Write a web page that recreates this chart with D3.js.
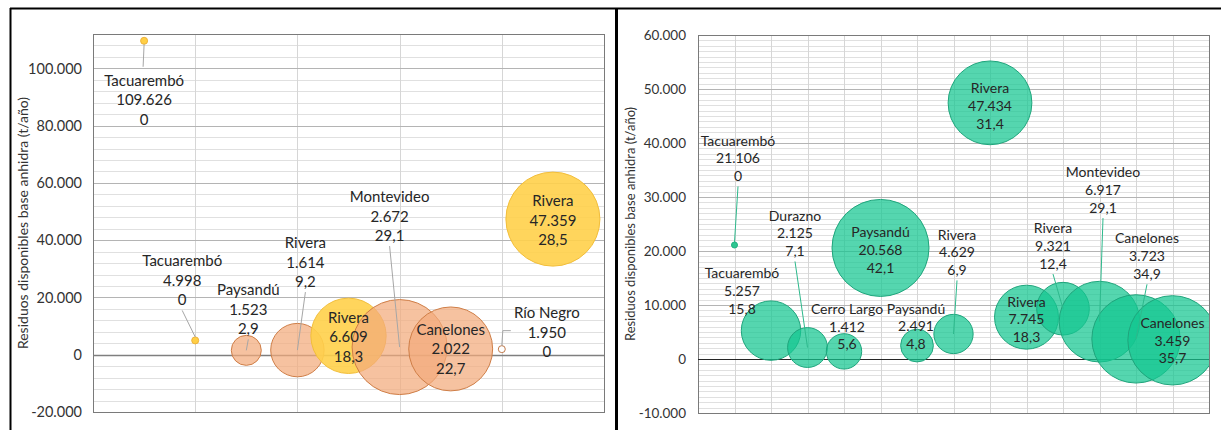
<!DOCTYPE html>
<html>
<head>
<meta charset="utf-8">
<script src="https://cdn.jsdelivr.net/npm/d3@7"></script>
<style>
  body { margin: 0; background: #fff; }
  svg { display: block; font-family: Lato, "Open Sans", sans-serif; }
</style>
</head>
<body>
<svg id="chart" width="1221" height="430"></svg>
<script>
// ---- Panel izquierdo ----
const departamentos1 = ["Tacuarembó", "Tacuarembó", "Paysandú", "Rivera", "Rivera",
                        "Montevideo", "Canelones", "Río Negro", "Rivera"];
const residuos1 = [109626, 4998, 1523, 1614, 6609, 2672, 2022, 1950, 47359];
const tamanos1  = [0, 0, 2.9, 9.2, 18.3, 29.1, 22.7, 0, 28.5];
const series1   = ["amarillo", "amarillo", "naranja", "naranja", "amarillo",
                   "naranja", "naranja", "naranja", "amarillo"];
const yTicks1   = [-20000, 0, 20000, 40000, 60000, 80000, 100000];

// ---- Panel derecho ----
const departamentos2 = ["Tacuarembó", "Tacuarembó", "Durazno", "Cerro Largo", "Paysandú",
                        "Paysandú", "Rivera", "Rivera", "Rivera", "Rivera",
                        "Montevideo", "Canelones", "Canelones"];
const residuos2 = [21106, 5257, 2125, 1412, 20568, 2491, 4629, 47434, 7745, 9321, 6917, 3723, 3459];
const tamanos2  = [0, 15.8, 7.1, 5.6, 42.1, 4.8, 6.9, 31.4, 18.3, 12.4, 29.1, 34.9, 35.7];
const series2   = Array(13).fill("verde");
const yTicks2   = [-10000, 0, 10000, 20000, 30000, 40000, 50000, 60000];

const tituloEjeY = "Residuos disponibles base anhidra (t/año)";

// Number formats with Spanish separators
const loc = d3.formatLocale({ decimal: ",", thousands: ".", grouping: [3], currency: ["$", ""], minus: "-" });
const fmtMiles = loc.format(",.0f");
const fmtTam = v => v === 0 ? "0" : loc.format(".1f")(v);

const estilos = {
  amarillo: { fill: "#FFD04A", op: 0.9, stroke: "#F2BE3A", cero: { fill: "#FFCF45", stroke: "#EDB23A" } },
  naranja:  { fill: "#F3AA7C", op: 0.72, stroke: "#CF7E47", cero: { fill: "#ffffff", stroke: "#C07A4C" } },
  verde:    { fill: "#14C690", op: 0.72, stroke: "#1FA57C", cero: { fill: "#2CC690", stroke: "#20B080" } }
};

const svg = d3.select("#chart");

// Outer frame
svg.append("line").attr("x1", 10).attr("x2", 1221).attr("y1", 8.5).attr("y2", 8.5)
  .attr("stroke", "#000").attr("stroke-width", 2);
svg.append("line").attr("x1", 10.5).attr("x2", 10.5).attr("y1", 8).attr("y2", 430)
  .attr("stroke", "#000").attr("stroke-width", 2);
svg.append("line").attr("x1", 616.5).attr("x2", 616.5).attr("y1", 8).attr("y2", 430)
  .attr("stroke", "#000").attr("stroke-width", 3);

function dibujarPanel(p) {
  const n = p.nombres.length;
  const x = d3.scaleLinear().domain(p.xDom).range([p.x0, p.x1]);
  const y = d3.scaleLinear().domain(p.yDom).range([p.y1, p.y0]);
  const r = d3.scaleSqrt().domain([0, d3.max(p.tam)]).range([0, p.rMax]);
  const g = svg.append("g");

  // minor horizontal grid
  g.append("g").selectAll("line")
    .data(d3.range(p.yDom[0], p.yDom[1] + 1, p.menor))
    .join("line")
    .attr("x1", p.x0).attr("x2", p.x1)
    .attr("y1", d => Math.round(y(d)) + 0.5).attr("y2", d => Math.round(y(d)) + 0.5)
    .attr("stroke", "#e0e0e0");
  // vertical grid
  g.append("g").selectAll("line")
    .data(d3.range(p.xDom[0], p.xDom[1] + 0.001, p.xPaso))
    .join("line")
    .attr("x1", d => Math.round(x(d)) + 0.5).attr("x2", d => Math.round(x(d)) + 0.5)
    .attr("y1", p.y0).attr("y2", p.y1)
    .attr("stroke", "#d6d6d6");
  // major horizontal grid
  g.append("g").selectAll("line")
    .data(p.yTicks)
    .join("line")
    .attr("x1", p.x0).attr("x2", p.x1)
    .attr("y1", d => Math.round(y(d)) + 0.5).attr("y2", d => Math.round(y(d)) + 0.5)
    .attr("stroke", "#b4b4b4");
  // plot border
  g.append("rect")
    .attr("x", p.x0 + 0.5).attr("y", p.y0 + 0.5)
    .attr("width", p.x1 - p.x0).attr("height", p.y1 - p.y0)
    .attr("fill", "none").attr("stroke", "#7a7a7a");
  // zero line
  g.append("line")
    .attr("x1", p.x0).attr("x2", p.x1)
    .attr("y1", Math.round(y(0)) + 0.5).attr("y2", Math.round(y(0)) + 0.5)
    .attr("stroke", p.colorCero).attr("stroke-width", p.anchoCero);

  // y axis labels
  const eje = g.append("g")
    .attr("transform", `translate(${p.x0},0)`)
    .call(d3.axisLeft(y).tickValues(p.yTicks).tickSize(0)
      .tickPadding(p.x0 - p.ticksX).tickFormat(fmtMiles));
  eje.select(".domain").remove();
  eje.selectAll("text")
    .attr("font-family", "Lato, sans-serif")
    .attr("font-size", p.fsTicks)
    .attr("fill", "#333");

  // y axis title
  g.append("text")
    .attr("transform", `translate(${p.tituloX},${(p.y0 + p.y1) / 2}) rotate(-90)`)
    .attr("text-anchor", "middle")
    .attr("dominant-baseline", "central")
    .attr("font-size", p.fsTitulo)
    .attr("fill", "#333")
    .text(tituloEjeY);

  // bubbles, clipped to the plot area
  const clipId = "clip" + p.id;
  svg.append("clipPath").attr("id", clipId)
    .append("rect").attr("x", p.x0).attr("y", p.y0)
    .attr("width", p.x1 - p.x0).attr("height", p.y1 - p.y0);

  const idx = d3.range(n);
  const burbujas = g.append("g").attr("clip-path", `url(#${clipId})`);
  burbujas.selectAll("circle")
    .data(idx)
    .join("circle")
    .attr("cx", i => x(i + 1))
    .attr("cy", i => y(p.valores[i]))
    .attr("r", i => p.tam[i] === 0 ? p.rCero : r(p.tam[i]))
    .attr("fill", i => p.tam[i] === 0 ? estilos[p.series[i]].cero.fill : estilos[p.series[i]].fill)
    .attr("fill-opacity", i => p.tam[i] === 0 ? 1 : estilos[p.series[i]].op)
    .attr("stroke", i => p.tam[i] === 0 ? estilos[p.series[i]].cero.stroke : estilos[p.series[i]].stroke)
    .attr("stroke-width", 1);

  // leader lines
  const guias = g.append("g");
  idx.forEach(i => {
    const tipo = p.guias[i];
    if (!tipo) return;
    const cx = x(i + 1), cy = y(p.valores[i]);
    const lx = cx + p.pos[i][0], ly = cy + p.pos[i][1];
    const rr = p.tam[i] === 0 ? p.rCero : 0;
    let pts;
    if (tipo === "abajo") pts = [[lx, ly + 2 * p.lh + 11], [cx, cy - rr]];
    else if (tipo === "arriba") pts = [[cx, cy + rr], [lx - 1, ly - 13]];
    else if (tipo === "codo") pts = [[cx, cy - rr], [cx + 1, ly + p.lh - 1], [cx + 9, ly + p.lh - 1]];
    guias.append("path")
      .attr("d", d3.line()(pts))
      .attr("fill", "none")
      .attr("stroke", p.colorGuia)
      .attr("stroke-width", 1);
  });

  // data labels: name, residue value, size
  const etiquetas = g.append("g")
    .attr("font-size", p.fsEtiq)
    .attr("fill", "#262626")
    .attr("text-anchor", "middle");
  idx.forEach(i => {
    const cx = x(i + 1), cy = y(p.valores[i]);
    const lx = cx + p.pos[i][0], ly = cy + p.pos[i][1];
    [p.nombres[i], fmtMiles(p.valores[i]), fmtTam(p.tam[i])].forEach((t, k) => {
      etiquetas.append("text")
        .attr("x", lx).attr("y", ly + k * p.lh)
        .attr("dominant-baseline", "central")
        .text(t);
    });
  });
}

// Label offsets from each bubble centre, and leader style
const pos1 = [[0, 39], [-13, -80], [2, -61], [8, -108], [0, -19], [-10, -151], [0, -20], [45, -37], [0, -19]];
const guias1 = ["arriba", "abajo", "abajo", "abajo", null, "abajo", null, "codo", null];

const pos2 = [[3.5, -105], [-29, -58], [-12.5, -132.5], [3, -43], [0, -16], [-1, -37.5], [3.5, -100],
              [0, -15], [0, -16], [-10, -81], [3.5, -150], [11, -101], [0, -18]];
const guias2 = ["abajo", null, "abajo", null, null, null, "abajo", null, null, "abajo", "abajo", "abajo", null];

dibujarPanel({
  id: 1, nombres: departamentos1, valores: residuos1, tam: tamanos1, series: series1,
  x0: 93, x1: 604, y0: 34, y1: 412,
  xDom: [0, 10], xPaso: 2, yDom: [-20000, 112000], menor: 4000, yTicks: yTicks1,
  rMax: 47.5, rCero: 3.5, ticksX: 82, tituloX: 22,
  fsTicks: 14.5, fsTitulo: 14, fsEtiq: 15, lh: 19.5,
  colorCero: "#7f7f7f", anchoCero: 1.5, colorGuia: "#a6a6a6",
  pos: pos1, guias: guias1
});

dibujarPanel({
  id: 2, nombres: departamentos2, valores: residuos2, tam: tamanos2, series: series2,
  x0: 698, x1: 1209, y0: 35, y1: 413,
  xDom: [0, 14], xPaso: 1, yDom: [-10000, 60000], menor: 1000, yTicks: yTicks2,
  rMax: 48.5, rCero: 3, ticksX: 686, tituloX: 630,
  fsTicks: 13.5, fsTitulo: 13, fsEtiq: 14, lh: 17.7,
  colorCero: "#262626", anchoCero: 1, colorGuia: "#2DB98C",
  pos: pos2, guias: guias2
});
</script>
</body>
</html>
